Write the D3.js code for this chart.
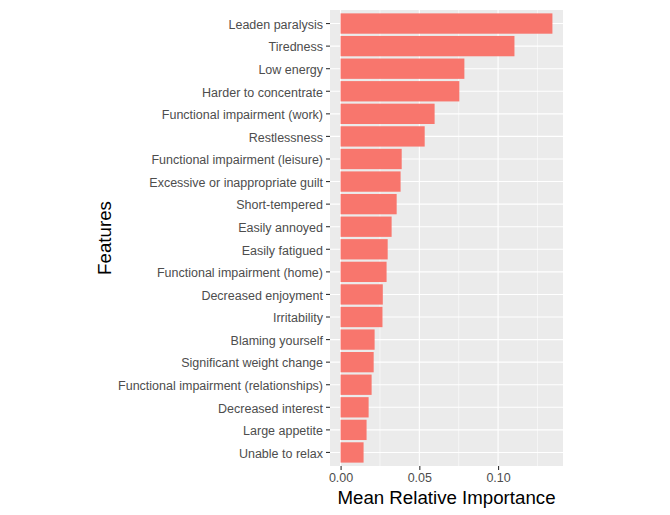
<!DOCTYPE html>
<html><head><meta charset="utf-8">
<script src="https://cdn.jsdelivr.net/npm/d3@7"></script>
<style>body{margin:0;background:#fff;}svg{display:block;font-family:"Liberation Sans",Arial,sans-serif;}</style>
</head><body>
<svg id="chart" width="670" height="515"></svg>
<script>
const categories = ["Leaden paralysis","Tiredness","Low energy","Harder to concentrate","Functional impairment (work)","Restlessness","Functional impairment (leisure)","Excessive or inappropriate guilt","Short-tempered","Easily annoyed","Easily fatigued","Functional impairment (home)","Decreased enjoyment","Irritability","Blaming yourself","Significant weight change","Functional impairment (relationships)","Decreased interest","Large appetite","Unable to relax"];
const values = [0.1345,0.1104,0.0786,0.0754,0.0597,0.0534,0.0388,0.0381,0.0356,0.0324,0.0299,0.0292,0.0268,0.0266,0.0216,0.0210,0.0197,0.0178,0.0165,0.0146];
const xTicks = [0, 0.05, 0.10];
const xTickLabels = ["0.00","0.05","0.10"];
const xMinor = [0.025, 0.075, 0.125];
const xTitle = "Mean Relative Importance";
const yTitle = "Features";

const svg = d3.select("#chart");
const P = {left:330, right:563, top:10, bottom:466};
const maxV = d3.max(values);
const x = d3.scaleLinear().domain([-0.05*maxV, 1.05*maxV]).range([P.left, P.right]);
const y = d3.scaleBand().domain(categories).range([P.top, P.bottom]).paddingInner(0.1).paddingOuter(0.15);

svg.append("rect").attr("x",P.left).attr("y",P.top).attr("width",P.right-P.left).attr("height",P.bottom-P.top).attr("fill","#EBEBEB");
const g = svg.append("g");
g.selectAll("line.minor").data(xMinor).join("line")
 .attr("x1",d=>x(d)).attr("x2",d=>x(d)).attr("y1",P.top).attr("y2",P.bottom)
 .attr("stroke","#fff").attr("stroke-width",0.55);
g.selectAll("line.majx").data(xTicks).join("line")
 .attr("x1",d=>x(d)).attr("x2",d=>x(d)).attr("y1",P.top).attr("y2",P.bottom)
 .attr("stroke","#fff").attr("stroke-width",1.1);
g.selectAll("line.majy").data(categories).join("line")
 .attr("y1",d=>y(d)+y.bandwidth()/2).attr("y2",d=>y(d)+y.bandwidth()/2).attr("x1",P.left).attr("x2",P.right)
 .attr("stroke","#fff").attr("stroke-width",1.1);

svg.selectAll("rect.bar").data(categories).join("rect").attr("class","bar")
 .attr("x",x(0)).attr("y",d=>y(d)).attr("height",y.bandwidth())
 .attr("width",(d,i)=>x(values[i])-x(0)).attr("fill","#F8766D");

const yAxis = d3.axisLeft(y).tickSize(4).tickPadding(3);
const ya = svg.append("g").attr("transform",`translate(${P.left},0)`).call(yAxis);
ya.select(".domain").remove();
ya.selectAll("line").attr("stroke","#333").attr("stroke-width",1.1);
ya.selectAll("text").attr("fill","#4D4D4D").attr("dy","0.42em").style("font-size","12.5px").style("font-family","Liberation Sans, Arial, sans-serif");

const xAxis = d3.axisBottom(x).tickValues(xTicks).tickFormat((d,i)=>xTickLabels[i]).tickSize(4).tickPadding(3);
const xa = svg.append("g").attr("transform",`translate(0,${P.bottom})`).call(xAxis);
xa.select(".domain").remove();
xa.selectAll("line").attr("stroke","#333").attr("stroke-width",1.1);
xa.selectAll("text").attr("fill","#4D4D4D").style("font-size","12.5px").style("font-family","Liberation Sans, Arial, sans-serif");

svg.append("text").attr("x",(P.left+P.right)/2).attr("y",504).attr("text-anchor","middle")
 .attr("fill","#000").style("font-size","18.7px").text(xTitle);
svg.append("text").attr("transform",`translate(111,${(P.top+P.bottom)/2}) rotate(-90)`).attr("text-anchor","middle")
 .attr("fill","#000").style("font-size","18.7px").text(yTitle);
</script>
</body></html>
